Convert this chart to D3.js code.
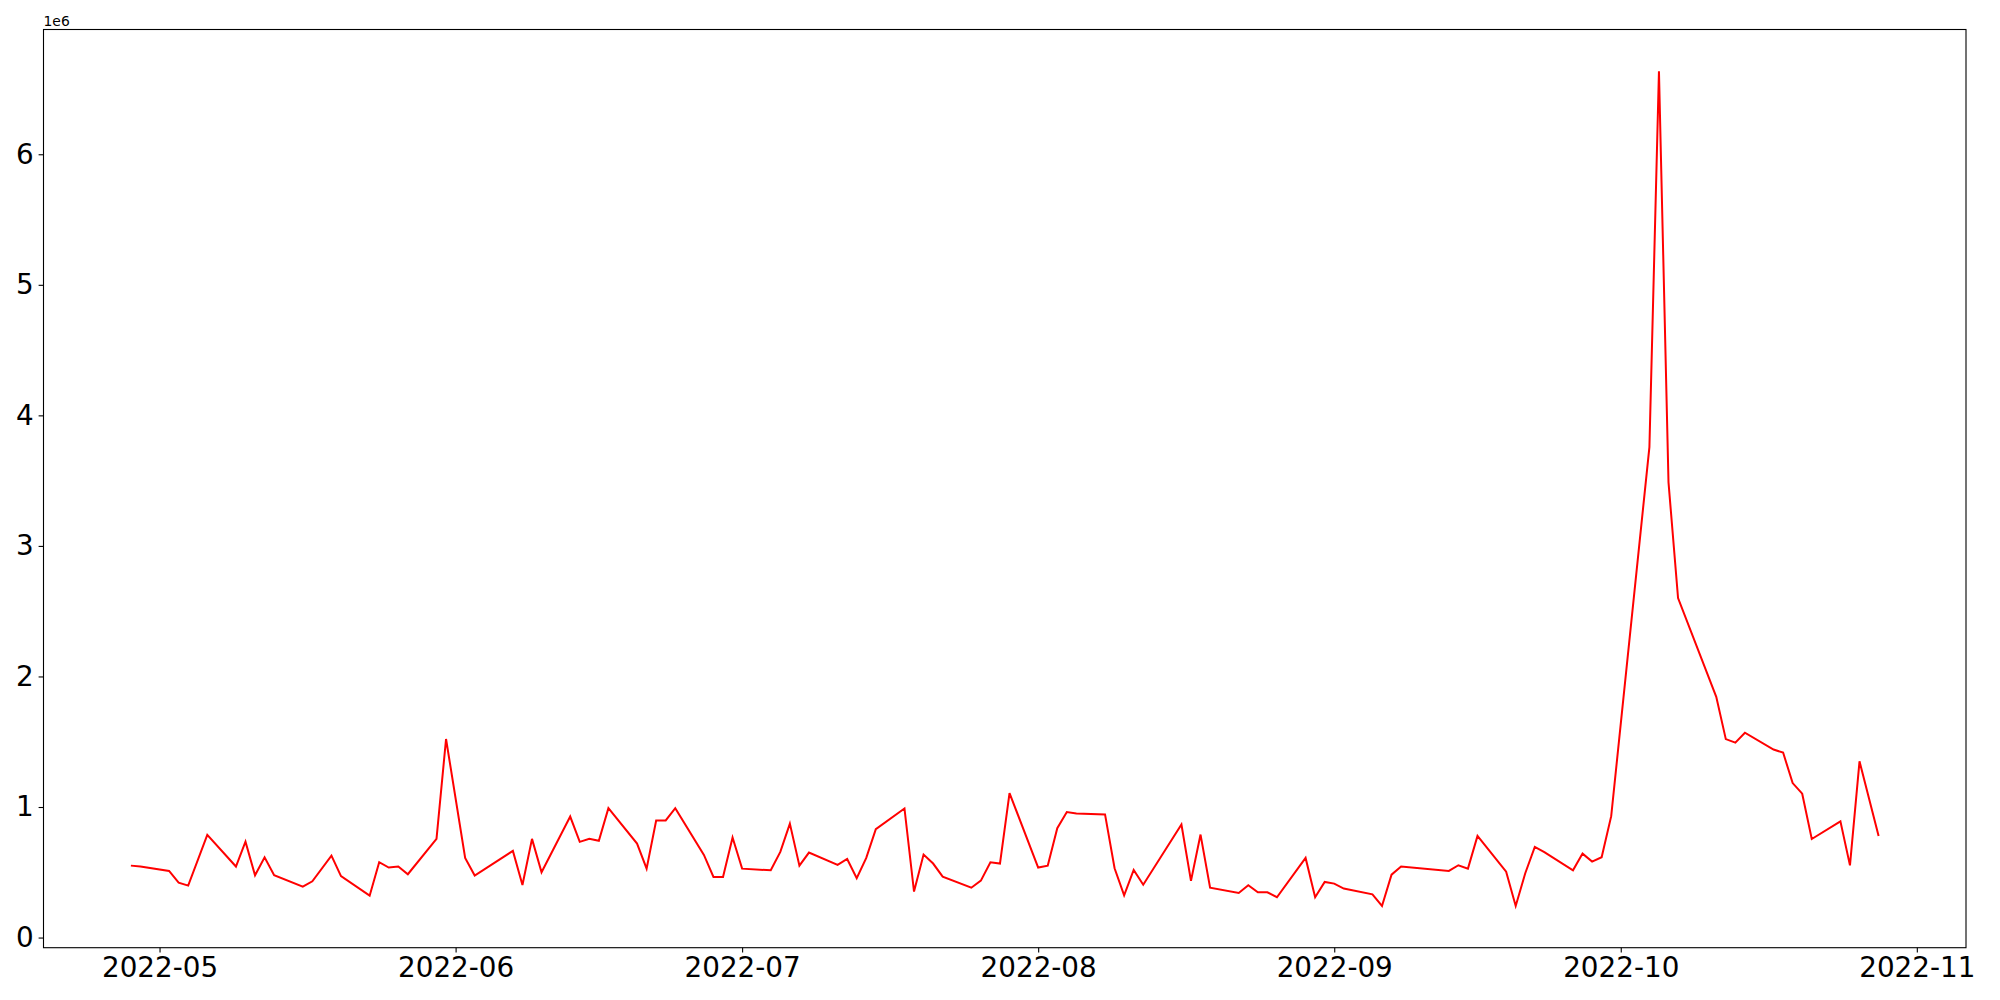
<!DOCTYPE html>
<html>
<head>
<meta charset="utf-8">
<script src="https://cdn.jsdelivr.net/npm/d3@7"></script>
<style>
  html, body { margin: 0; padding: 0; background: #fff; }
  svg { display: block; }
  text { font-family: "DejaVu Sans", sans-serif; fill: #000; }
</style>
</head>
<body>
<svg id="chart" width="2000" height="1000"></svg>
<script>
const dates = [
  "2022-04-28","2022-04-29","2022-05-02","2022-05-03","2022-05-04","2022-05-06","2022-05-09","2022-05-10","2022-05-11","2022-05-12","2022-05-13",
  "2022-05-16","2022-05-17","2022-05-19","2022-05-20","2022-05-23","2022-05-24","2022-05-25","2022-05-26","2022-05-27",
  "2022-05-30","2022-05-31","2022-06-02","2022-06-03","2022-06-07","2022-06-08","2022-06-09","2022-06-10",
  "2022-06-13","2022-06-14","2022-06-15","2022-06-16","2022-06-17","2022-06-20","2022-06-21","2022-06-22","2022-06-23","2022-06-24",
  "2022-06-27","2022-06-28","2022-06-29","2022-06-30","2022-07-01","2022-07-04","2022-07-05","2022-07-06","2022-07-07","2022-07-08",
  "2022-07-11","2022-07-12","2022-07-13","2022-07-14","2022-07-15","2022-07-18","2022-07-19","2022-07-20","2022-07-21","2022-07-22",
  "2022-07-25","2022-07-26","2022-07-27","2022-07-28","2022-07-29","2022-08-01","2022-08-02","2022-08-03","2022-08-04","2022-08-05",
  "2022-08-08","2022-08-09","2022-08-10","2022-08-11","2022-08-12","2022-08-16","2022-08-17","2022-08-18","2022-08-19",
  "2022-08-22","2022-08-23","2022-08-24","2022-08-25","2022-08-26","2022-08-29","2022-08-30","2022-08-31","2022-09-01","2022-09-02",
  "2022-09-05","2022-09-06","2022-09-07","2022-09-08","2022-09-13","2022-09-14","2022-09-15","2022-09-16",
  "2022-09-19","2022-09-20","2022-09-21","2022-09-22","2022-09-23","2022-09-26","2022-09-27","2022-09-28","2022-09-29","2022-09-30",
  "2022-10-04","2022-10-05","2022-10-06","2022-10-07","2022-10-11","2022-10-12","2022-10-13","2022-10-14",
  "2022-10-17","2022-10-18","2022-10-19","2022-10-20","2022-10-21","2022-10-24","2022-10-25","2022-10-26","2022-10-28"
];
const values = [
  551000,545000,510000,421000,398000,787000,544000,735000,477000,615000,477000,
  390000,431000,628000,470000,321000,577000,536000,544000,485000,
  756000,1521000,610000,475000,664000,403000,756000,500000,
  927000,733000,756000,741000,991000,720000,528000,897000,897000,991000,
  633000,464000,464000,766000,528000,515000,656000,873000,551000,651000,
  556000,602000,454000,610000,830000,989000,352000,636000,567000,467000,
  382000,436000,577000,567000,1107000,536000,551000,838000,961000,950000,
  943000,531000,324000,518000,405000,866000,434000,789000,382000,
  342000,401000,347000,347000,309000,610000,309000,426000,413000,375000,
  331000,242000,482000,544000,510000,554000,528000,779000,
  505000,242000,493000,695000,654000,515000,643000,582000,615000,930000,
  3757000,6636000,3487000,2600000,1844000,1520000,1493000,1569000,
  1440000,1417000,1183000,1102000,755000,890000,553000,1350000,778000
];
const xTickLabels = ["2022-05","2022-06","2022-07","2022-08","2022-09","2022-10","2022-11"];
const yTickValues = [0, 1, 2, 3, 4, 5, 6];
const offsetLabel = "1e6";
const lineColor = "#ff0000";

const parse = d3.utcParse("%Y-%m-%d");
const data = dates.map((d, i) => ({ date: parse(d), value: values[i] }));

const svg = d3.select("#chart");
const L = 43.5, T = 29.5, R = 1966, B = 947.7;

// matplotlib-style 5% margins
const xExt = d3.extent(data, d => d.date.getTime());
const xr = xExt[1] - xExt[0];
const x = d3.scaleUtc()
  .domain([new Date(xExt[0] - 0.05 * xr), new Date(xExt[1] + 0.05 * xr)])
  .range([L, R]);

const yExt = d3.extent(data, d => d.value);
const yr = yExt[1] - yExt[0];
const y = d3.scaleLinear()
  .domain([yExt[0] - 0.05 * yr, yExt[1] + 0.05 * yr])
  .range([B, T]);

// line
const line = d3.line().x(d => x(d.date)).y(d => y(d.value));
svg.append("path")
  .datum(data)
  .attr("d", line)
  .attr("fill", "none")
  .attr("stroke", lineColor)
  .attr("stroke-width", 2)
  .attr("stroke-linejoin", "miter");

// x axis
const xTicks = xTickLabels.map(s => d3.utcParse("%Y-%m")(s));
const xAxis = d3.axisBottom(x)
  .tickValues(xTicks)
  .tickFormat((d, i) => xTickLabels[i])
  .tickSize(4.9)
  .tickPadding(4.9);
const gx = svg.append("g").attr("transform", `translate(0,${B})`).call(xAxis);
gx.select(".domain").remove();
gx.selectAll(".tick line").attr("stroke", "#000").attr("stroke-width", 1.1);
gx.selectAll(".tick text").attr("font-size", "27.8px").attr("font-family", "DejaVu Sans").attr("fill", "#000");

// y axis
const yAxis = d3.axisLeft(y)
  .tickValues(yTickValues.map(v => v * 1e6))
  .tickFormat(d => String(Math.round(d / 1e6)))
  .tickSize(4.9)
  .tickPadding(4.9);
const gy = svg.append("g").attr("transform", `translate(${L},0)`).call(yAxis);
gy.select(".domain").remove();
gy.selectAll(".tick line").attr("stroke", "#000").attr("stroke-width", 1.1);
gy.selectAll(".tick text").attr("font-size", "27.8px").attr("font-family", "DejaVu Sans").attr("fill", "#000");

// frame
svg.append("rect")
  .attr("x", L).attr("y", T)
  .attr("width", R - L).attr("height", B - T)
  .attr("fill", "none").attr("stroke", "#000").attr("stroke-width", 1.1);

// offset text
svg.append("text")
  .attr("x", L).attr("y", T - 4)
  .attr("font-size", "13.9px")
  .text(offsetLabel);
</script>
</body>
</html>
